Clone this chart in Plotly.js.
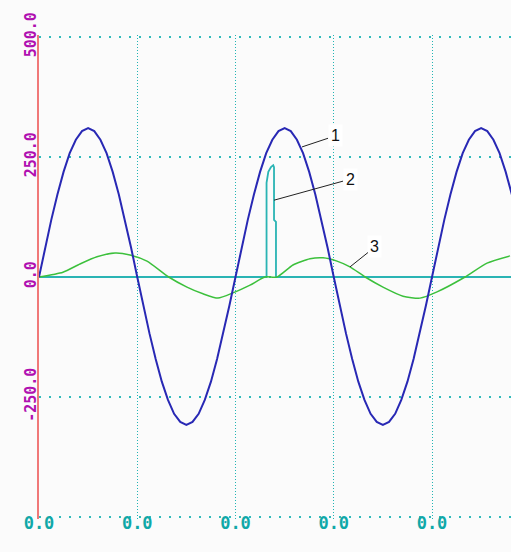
<!DOCTYPE html>
<html>
<head>
<meta charset="utf-8">
<script src="https://cdn.plot.ly/plotly-3.0.1.min.js"></script>
<style>
html,body{margin:0;padding:0;background:#fbfbfb;}
#chart{width:511px;height:552px;}
</style>
</head>
<body>
<div id="chart"></div>
<script>
// Trace 1 (blue)
const xBlue = [0,0.0625,0.125,0.1875,0.25,0.3125,0.375,0.4375,0.5,0.5625,0.625,0.6875,0.75,0.8125,0.875,0.9375,1,1.0625,1.125,1.1875,1.25,1.3125,1.375,1.4375,1.5,1.5625,1.625,1.6875,1.75,1.8125,1.875,1.9375,2,2.0625,2.125,2.1875,2.25,2.3125,2.375,2.4375,2.5,2.5625,2.625,2.6875,2.75,2.8125,2.875,2.9375,3,3.0625,3.125,3.1875,3.25,3.3125,3.375,3.4375,3.5,3.5625,3.625,3.6875,3.75,3.8125,3.875,3.9375,4,4.0625,4.125,4.1875,4.25,4.3125,4.375,4.4375,4.5,4.5625,4.625,4.6875,4.75,4.8125,4.875];
const yBlue = [0,61,119,172,219,258,286,304,310,304,286,258,219,172,119,61,0,-60,-118,-171,-218,-256,-285,-302,-308,-302,-285,-256,-218,-171,-118,-60,0,61,119,172,219,258,286,304,310,304,286,258,219,172,119,61,0,-60,-118,-171,-218,-256,-285,-302,-308,-302,-285,-256,-218,-171,-118,-60,0,61,119,172,219,258,286,304,310,304,286,258,219,172,119];
// Trace 2 (cyan pulse on the zero line)
const xCyan = [0,2.316,2.316,2.334,2.361,2.384,2.392,2.392,2.412,2.412,4.9];
const yCyan = [0,0,196,219,229,233,229,119,115,0,0];
// Trace 3 (green)
const xGreen = [0,0.244,0.417,0.590,0.774,0.926,1.099,1.32,1.506,1.669,1.822,1.975,2.148,2.300,2.422,2.585,2.758,2.891,3.033,3.165,3.32,3.501,3.705,3.878,4.051,4.336,4.560,4.794];
const yGreen = [0,10,27,42,50,46,33,0,-21,-35,-44,-33,-17,0,0,25,38,40,33,21,0,-21,-40,-44,-31,0,29,44];
// Ticks
const xTickVals = [0,1,2,3,4];
const xTickText = ["0.0","0.0","0.0","0.0","0.0"];
const yTickVals = [-500,-250,0,250,500];
const yTickText = ["","-250.0","0.0","250.0","500.0"];
// Curve labels
const labelText = ["1","2","3"];
const labelX = [2.677,2.392,3.165];
const labelY = [271,160,21];

const traces = [
  {x:xCyan, y:yCyan, mode:'lines', line:{color:'#2ab4b4', width:1.8}, hoverinfo:'skip'},
  {x:xGreen, y:yGreen, mode:'lines', line:{color:'#3cc03c', width:1.5, shape:'spline', smoothing:0.6}, hoverinfo:'skip'},
  {x:xBlue, y:yBlue, mode:'lines', line:{color:'#2828b4', width:2}, hoverinfo:'skip'}
];

const offsets = [[33,-11],[76,-21],[25,-20]];
const annotations = labelText.map((t,i)=>({
  x:labelX[i], y:labelY[i], xref:'x', yref:'y', text:t,
  showarrow:true, arrowhead:0, arrowwidth:1, arrowcolor:'#222',
  ax:offsets[i][0], ay:offsets[i][1], standoff:0,
  font:{family:'Liberation Sans, Arial, sans-serif', size:16, color:'#111'},
  bgcolor:'#ffffff', borderpad:2
}));

const layout = {
  width:511, height:552,
  margin:{l:39, r:0, t:35, b:33, pad:0},
  paper_bgcolor:'#fbfbfb', plot_bgcolor:'#fbfbfb',
  showlegend:false,
  xaxis:{
    range:[0,4.804], tickvals:xTickVals, ticktext:xTickText,
    showgrid:true, gridcolor:'#22b4b4', griddash:'1px,2px', gridwidth:1,
    zeroline:false, showline:false, ticks:'', automargin:false,
    ticklabelstandoff:-8,
    tickfont:{family:'DejaVu Sans Mono, monospace', size:17, color:'#10a8a8', weight:'bold'}
  },
  yaxis:{
    range:[-504.17,504.17], tickvals:yTickVals, ticktext:yTickText, tickangle:-90,
    showgrid:true, gridcolor:'#30bcbc', griddash:'2px,8px', gridwidth:2,
    zeroline:false, showline:true, linecolor:'#f07878', linewidth:2,
    ticks:'', automargin:false, ticklabelstandoff:-5,
    tickfont:{family:'DejaVu Sans Mono, monospace', size:15, color:'#b010b0', weight:'bold'}
  },
  annotations:annotations
};

Plotly.newPlot('chart', traces, layout, {staticPlot:true, displayModeBar:false});
</script>
</body>
</html>
